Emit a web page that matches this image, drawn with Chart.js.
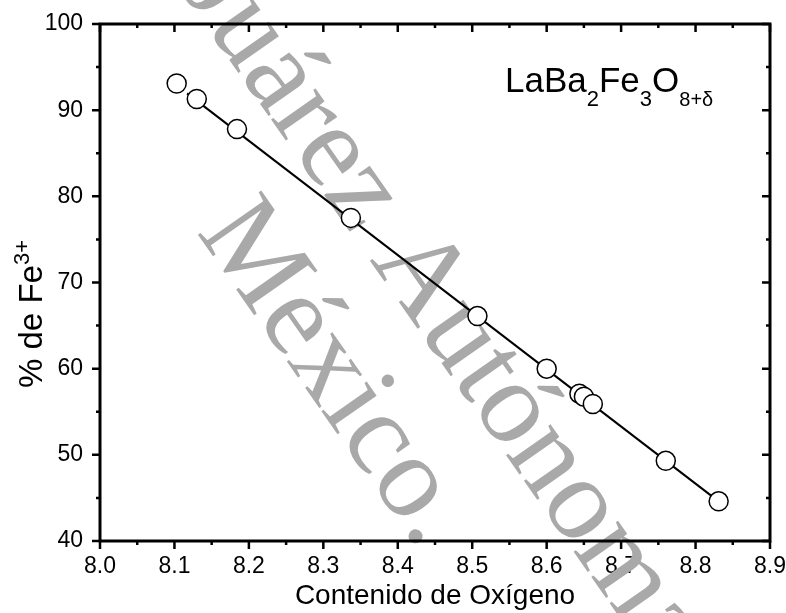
<!DOCTYPE html>
<html>
<head>
<meta charset="utf-8">
<script src="https://cdn.jsdelivr.net/npm/chart.js@4.4.1/dist/chart.umd.min.js"></script>
<style>
  html, body { margin: 0; background: #fff; }
  #contenedor { width: 786px; height: 613px; }
</style>
</head>
<body>
<div id="contenedor"><canvas id="grafica"></canvas></div>
<script>
// datos medidos
const oxigeno = [8.103, 8.130, 8.184, 8.337, 8.507, 8.600, 8.644, 8.650, 8.662, 8.760, 8.831];
const fe3 = [93.1, 91.3, 87.8, 77.5, 66.1, 60.0, 57.1, 56.75, 55.9, 49.3, 44.6];

// recta de ajuste
const ajusteX = [8.117, 8.831];
const ajusteY = [91.95, 44.6];

const ticksX = [8.0, 8.1, 8.2, 8.3, 8.4, 8.5, 8.6, 8.7, 8.8, 8.9];
const ticksY = [40, 50, 60, 70, 80, 90, 100];

const fuente = "'Liberation Sans', Arial, sans-serif";

// marca de agua
const marcaAntes = 'Universidad Juárez ';
const marcaDespues = 'Autónoma de Tabasco.';
const marcaLinea2 = 'México.';

function dibujaMarca(chart) {
  const ctx = chart.ctx;
  ctx.save();
  ctx.fillStyle = '#a9a9a9';
  ctx.font = "118px 'Liberation Serif', 'Times New Roman', serif";
  ctx.textBaseline = 'alphabetic';
  ctx.textAlign = 'left';
  ctx.translate(196, 232);
  ctx.rotate(55 * Math.PI / 180);
  ctx.fillText(marcaLinea2, 0, 0);
  const w = ctx.measureText(marcaAntes).width;
  ctx.fillText(marcaAntes + marcaDespues, 122 - w, -126);
  ctx.restore();
}

function dibujaMarco(chart) {
  const ctx = chart.ctx;
  const a = chart.chartArea;
  const sx = chart.scales.x, sy = chart.scales.y;
  ctx.save();
  ctx.strokeStyle = '#000';
  ctx.lineWidth = 3;
  ctx.strokeRect(a.left, a.top, a.right - a.left, a.bottom - a.top);

  ctx.lineWidth = 2.5;
  const mayor = 8, menor = 4;
  ctx.beginPath();
  ticksX.forEach((v, i) => {
    const px = sx.getPixelForValue(v);
    ctx.moveTo(px, a.bottom); ctx.lineTo(px, a.bottom + mayor);
    ctx.moveTo(px, a.top); ctx.lineTo(px, a.top + mayor);
    if (i < ticksX.length - 1) {
      const pm = sx.getPixelForValue((v + ticksX[i + 1]) / 2);
      ctx.moveTo(pm, a.bottom); ctx.lineTo(pm, a.bottom + menor);
      ctx.moveTo(pm, a.top); ctx.lineTo(pm, a.top + menor);
    }
  });
  ticksY.forEach((v, i) => {
    const py = sy.getPixelForValue(v);
    ctx.moveTo(a.left, py); ctx.lineTo(a.left - mayor, py);
    ctx.moveTo(a.right, py); ctx.lineTo(a.right - mayor, py);
    if (i < ticksY.length - 1) {
      const pm = sy.getPixelForValue((v + ticksY[i + 1]) / 2);
      ctx.moveTo(a.left, pm); ctx.lineTo(a.left - menor, pm);
      ctx.moveTo(a.right, pm); ctx.lineTo(a.right - menor, pm);
    }
  });
  ctx.stroke();
  ctx.restore();
}

// texto con subindices: [texto, tamaño, desplazamiento vertical]
function textoCompuesto(ctx, partes, x, y) {
  let cx = x;
  partes.forEach(([t, tam, dy]) => {
    ctx.font = tam + 'px ' + fuente;
    ctx.fillText(t, cx, y + dy);
    cx += ctx.measureText(t).width;
  });
}

const decoracion = {
  id: 'decoracion',
  beforeDatasetsDraw(chart) {
    dibujaMarca(chart);
  },
  afterDraw(chart) {
    const ctx = chart.ctx;
    dibujaMarco(chart);
    ctx.save();
    ctx.fillStyle = '#000';
    ctx.textBaseline = 'alphabetic';
    ctx.textAlign = 'left';
    textoCompuesto(ctx, [
      ['LaBa', 35, 0], ['2', 22, 14], ['Fe', 35, 0], ['3', 22, 14], ['O', 35, 0], ['8+δ', 20, 14]
    ], 505, 92);

    // titulo del eje y
    ctx.translate(42, 388);
    ctx.rotate(-Math.PI / 2);
    textoCompuesto(ctx, [['% de Fe', 33, 0], ['3+', 22, -13]], 0, 0);
    ctx.restore();
  }
};

const config = {
  type: 'scatter',
  data: {
    datasets: [{
      label: 'Fe3+',
      data: oxigeno.map((x, i) => ({ x: x, y: fe3[i] })),
      pointStyle: 'circle',
      pointRadius: 9.5,
      pointBorderWidth: 1.5,
      pointBackgroundColor: '#fff',
      pointBorderColor: '#000',
      showLine: false,
      order: 0
    }, {
      label: 'ajuste',
      data: ajusteX.map((x, i) => ({ x: x, y: ajusteY[i] })),
      showLine: true,
      borderColor: '#000',
      borderWidth: 2,
      pointRadius: 0,
      order: 1
    }]
  },
  options: {
    responsive: true,
    maintainAspectRatio: false,
    animation: false,
    layout: { padding: { top: 24, right: 16, left: 0, bottom: 0 } },
    plugins: { legend: { display: false }, tooltip: { enabled: false } },
    scales: {
      x: {
        type: 'linear',
        min: 8.0,
        max: 8.9,
        afterBuildTicks: s => { s.ticks = ticksX.map(v => ({ value: v })); },
        afterFit: s => { s.height = 72; s.paddingLeft = 0; s.paddingRight = 0; },
        grid: { display: false, drawTicks: false },
        border: { display: false },
        ticks: {
          padding: 12,
          color: '#000',
          font: { family: fuente, size: 23 },
          callback: v => v.toFixed(1)
        },
        title: {
          display: true,
          text: 'Contenido de Oxígeno',
          color: '#000',
          font: { family: fuente, size: 28 },
          padding: { top: 0, bottom: 0 }
        }
      },
      y: {
        type: 'linear',
        min: 40,
        max: 100,
        afterBuildTicks: s => { s.ticks = ticksY.map(v => ({ value: v })); },
        afterFit: s => { s.width = 100; s.paddingTop = 0; s.paddingBottom = 0; },
        grid: { display: false, drawTicks: false },
        border: { display: false },
        ticks: {
          padding: 17,
          color: '#000',
          font: { family: fuente, size: 23 }
        }
      }
    }
  },
  plugins: [decoracion]
};

const grafica = new Chart(document.getElementById('grafica'), config);
</script>
</body>
</html>
